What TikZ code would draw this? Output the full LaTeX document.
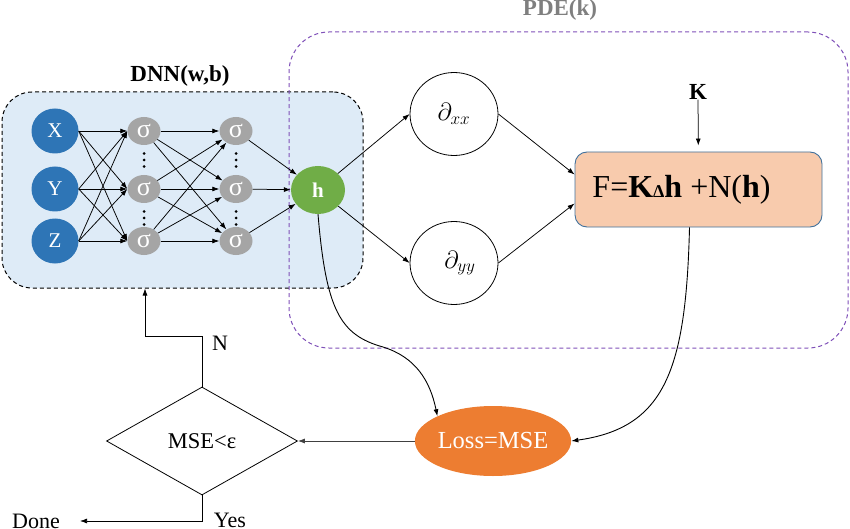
\documentclass[tikz,border=0pt]{standalone}
\usepackage{fontspec}
\setmainfont{Liberation Serif}
\usetikzlibrary{arrows.meta,shapes.geometric}
\definecolor{dnnfill}{HTML}{DEEBF7}
\definecolor{inblue}{HTML}{2E75B6}
\definecolor{sgray}{HTML}{A5A5A5}
\definecolor{hgreen}{HTML}{70AD47}
\definecolor{pdepurple}{HTML}{7F50B8}
\definecolor{ffill}{HTML}{F8CBAD}
\definecolor{fborder}{HTML}{41719C}
\definecolor{lossorange}{HTML}{ED7D31}
\definecolor{pdegray}{HTML}{7F7F7F}
\begin{document}
\begin{tikzpicture}[x=1pt,y=-1pt,
  arr/.style={-{Latex[length=7pt,width=5pt]}, line width=0.75pt},
  innode/.style={ellipse, fill=inblue, minimum width=47pt, minimum height=45pt, inner sep=0pt, text=white, font=\fontsize{21}{21}\selectfont},
  signode/.style={ellipse, fill=sgray, minimum width=33pt, minimum height=28pt, inner sep=0pt, text=white, font=\fontsize{26}{26}\selectfont},
  circnode/.style={ellipse, draw, line width=0.8pt, minimum width=88pt, minimum height=83pt, inner sep=0pt, font=\fontsize{24}{24}\selectfont},
  titlelab/.style={font=\bfseries\fontsize{23}{23}\selectfont, inner sep=0pt},
  plainlab/.style={font=\fontsize{22}{22}\selectfont, inner sep=0pt}
]
\useasboundingbox (0,0) rectangle (850,529);

% boxes
\node[draw, fill=dnnfill, rounded corners=30pt, minimum width=361pt, minimum height=196pt, line width=1pt, dash pattern=on 4pt off 3pt] (dnn) at (182.5,190) {};
\node[draw=pdepurple, rounded corners=40pt, minimum width=559pt, minimum height=316pt, line width=1pt, dash pattern=on 4pt off 3pt] (pde) at (568.5,190) {};

\node[titlelab] (dnnlab) at (180,76) {DNN(w,b)};
\node[titlelab, text=pdegray] (pdelab) at (560,10) {PDE(k)};

% input layer
\node[innode] (X) at (55,131) {X};
\node[innode] (Y) at (55,189) {Y};
\node[innode] (Z) at (55,241) {Z};

% hidden layers
\node[signode] (s11) at (144,131) {σ};
\node[signode] (s12) at (144,189) {σ};
\node[signode] (s13) at (144,241) {σ};
\node[signode] (s21) at (236,131) {σ};
\node[signode] (s22) at (236,189) {σ};
\node[signode] (s23) at (236,241) {σ};
\foreach \xx in {144,236} \foreach \yy in {153.5,160,166.5,211.5,218,224.5}
  \fill (\xx,\yy) circle (1.5pt);

\node[ellipse, fill=hgreen, minimum width=54pt, minimum height=48pt, inner sep=0pt, text=white, font=\bfseries\fontsize{21}{21}\selectfont] (h) at (318,190) {h};

\foreach \a in {X,Y,Z} \foreach \b in {s11,s12,s13} \draw[arr] (\a.east) -- (\b.west);
\foreach \a in {s11,s12,s13} \foreach \b in {s21,s22,s23} \draw[arr] (\a) -- (\b);
\foreach \a in {s21,s22,s23} \draw[arr] (\a) -- (h);

% PDE part
\node[circnode] (dxx) at (454,114) {$\partial_{xx}$};
\node[circnode] (dyy) at (454,263) {\hspace*{12pt}$\partial_{yy}$};
\node[draw=fborder, fill=ffill, rounded corners=12pt, minimum width=247pt, minimum height=75pt, line width=0.9pt, font=\fontsize{32}{32}\selectfont] (F) at (698.5,189.5) {F=\textbf{K}{\fontsize{18}{18}\selectfont\textbf{Δ}}\textbf{h} +N(\textbf{h})\hspace*{34pt}};
\node[titlelab] (K) at (698,92) {K};

\draw[arr] (h) -- (dxx.west);
\draw[arr] (h) -- (dyy.west);
\draw[arr] (dxx.east) -- ([yshift=15pt]F.west);
\draw[arr] (dyy.east) -- ([yshift=-14pt]F.west);
\draw[arr, shorten >=6pt] (K) -- (F);

% loss and decision
\node[ellipse, fill=lossorange, minimum width=153pt, minimum height=70pt, inner sep=0pt, text=white, font=\fontsize{24.5}{24.5}\selectfont] (loss) at (493,441) {Loss=MSE};
\node[diamond, draw, line width=0.8pt, minimum width=191pt, minimum height=108pt, aspect=1.77, inner sep=0pt, font=\fontsize{22.5}{22.5}\selectfont] (dec) at (202,441) {MSE<ε};

\draw[arr, line width=0.9pt] (h.south) .. controls (326,310) and (340,335) .. (383,347) .. controls (415,357) and (430,380) .. (loss.156);
\draw[arr, line width=0.9pt] ([xshift=-9pt]F.south) .. controls (686,370) and (665,428) .. (loss.east);
\draw[arr, draw=black!75] (loss.west) -- (dec.east);
\draw[arr] (dec.north) -- ++(0,-50) -| ([xshift=-37.5pt]dnn.south);
\coordinate (doneend) at (80,521);
\draw[arr] (dec.south) |- (doneend);

\node[plainlab] (N) at (220,343) {N};
\node[plainlab] (yes) at (230,520) {Yes};
\node[plainlab] (done) at (36,521) {Done};
\end{tikzpicture}
\end{document}
